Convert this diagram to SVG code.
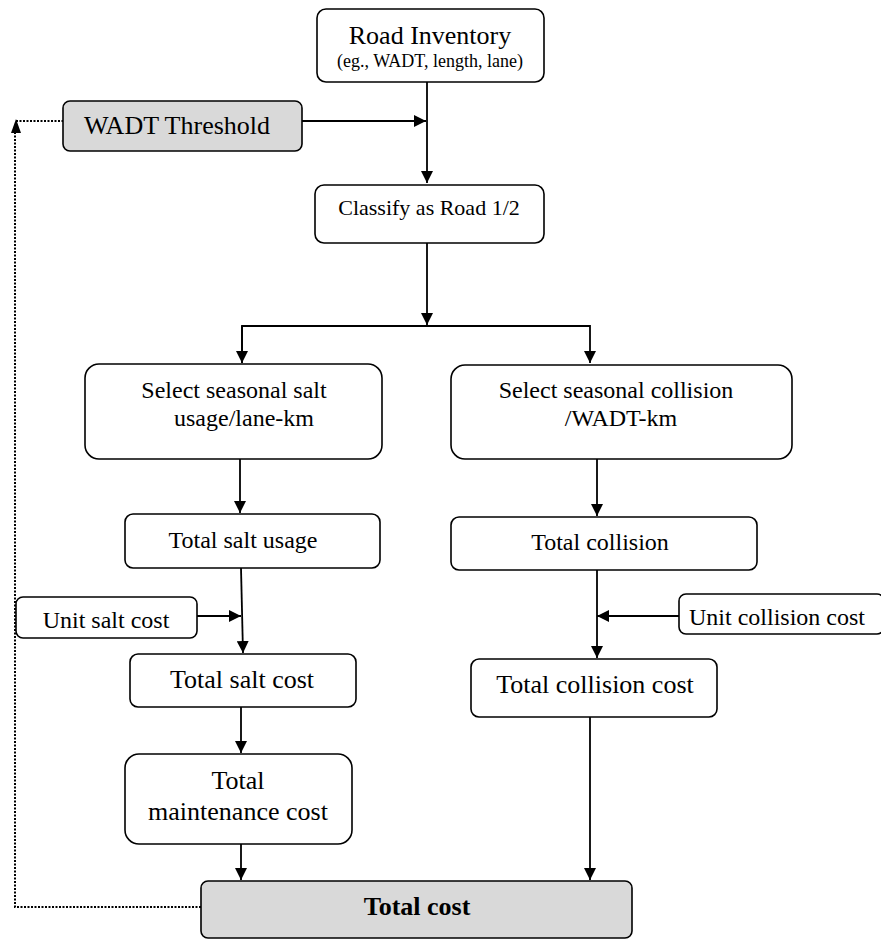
<svg xmlns="http://www.w3.org/2000/svg" width="881" height="940" viewBox="0 0 881 940">
<defs>
<marker id="arr" markerUnits="userSpaceOnUse" markerWidth="13" markerHeight="12" refX="12" refY="6" orient="auto">
<path d="M0,0 L12,6 L0,12 z" fill="#000"/>
</marker>
<style>
.box{fill:#fff;stroke:#000;stroke-width:1.6}
.gray{fill:#d9d9d9;stroke:#000;stroke-width:1.6}
.t{font-family:"Liberation Serif","Times New Roman",serif;fill:#000;text-anchor:middle}
.ln{fill:none;stroke:#000;stroke-width:1.8}
.dot{fill:none;stroke:#000;stroke-width:2;stroke-dasharray:2 1.5}
</style>
</defs>
<rect width="881" height="940" fill="#fff"/>
<g id="connectors">
<line class="ln" x1="427" y1="82" x2="427" y2="183" marker-end="url(#arr)"/>
<line class="ln" x1="302" y1="121" x2="426" y2="121" marker-end="url(#arr)"/>
<line class="ln" x1="427" y1="243" x2="427" y2="325" marker-end="url(#arr)"/>
<polyline class="ln" points="242,363 242,326 590,326 590,363" marker-start="url(#arr)" marker-end="url(#arr)" style="marker-start:none"/>
<line class="ln" x1="242" y1="326" x2="242" y2="363" marker-end="url(#arr)"/>
<line class="ln" x1="240" y1="459" x2="240" y2="513" marker-end="url(#arr)"/>
<line class="ln" x1="597" y1="459" x2="597" y2="516" marker-end="url(#arr)"/>
<line class="ln" x1="241" y1="568" x2="243" y2="653" marker-end="url(#arr)"/>
<line class="ln" x1="197" y1="616" x2="241" y2="616" marker-end="url(#arr)"/>
<line class="ln" x1="597" y1="570" x2="597" y2="658" marker-end="url(#arr)"/>
<line class="ln" x1="679" y1="616" x2="597" y2="616" marker-end="url(#arr)"/>
<line class="ln" x1="241" y1="707" x2="241" y2="753" marker-end="url(#arr)"/>
<line class="ln" x1="241" y1="844" x2="241" y2="880" marker-end="url(#arr)"/>
<line class="ln" x1="590" y1="717" x2="590" y2="880" marker-end="url(#arr)"/>
<polyline class="dot" points="201,907 15,907 15,133"/>
<polyline class="dot" points="16,121 63,121"/>
<polygon points="16,119 11,133 21,133" fill="#000"/>
</g>
<g id="road-inventory">
<rect class="box" x="317" y="9" width="227" height="73" rx="9"/>
<text class="t" x="430" y="44" font-size="26">Road Inventory</text>
<text class="t" x="430" y="67" font-size="18">(eg., WADT, length, lane)</text>
</g>
<g id="wadt-threshold">
<rect class="gray" x="63" y="101" width="239" height="50" rx="7"/>
<text class="t" x="177" y="134" font-size="26">WADT Threshold</text>
</g>
<g id="classify">
<rect class="box" x="315" y="185" width="229" height="58" rx="9"/>
<text class="t" x="429" y="215" font-size="22">Classify as Road 1/2</text>
</g>
<g id="select-salt">
<rect class="box" x="85" y="364" width="297" height="95" rx="14"/>
<text class="t" x="234" y="398" font-size="24">Select seasonal salt</text>
<text class="t" x="244" y="426" font-size="24">usage/lane-km</text>
</g>
<g id="select-collision">
<rect class="box" x="451" y="365" width="341" height="94" rx="14"/>
<text class="t" x="616" y="398" font-size="24">Select seasonal collision</text>
<text class="t" x="621" y="426" font-size="24">/WADT-km</text>
</g>
<g id="total-salt-usage">
<rect class="box" x="125" y="514" width="255" height="54" rx="8"/>
<text class="t" x="243" y="548" font-size="24">Total salt usage</text>
</g>
<g id="total-collision">
<rect class="box" x="451" y="517" width="306" height="53" rx="8"/>
<text class="t" x="600" y="550" font-size="24">Total collision</text>
</g>
<g id="unit-salt-cost">
<rect class="box" x="16" y="597" width="181" height="41" rx="7"/>
<text class="t" x="106" y="628" font-size="24">Unit salt cost</text>
</g>
<g id="unit-collision-cost">
<rect class="box" x="679" y="594" width="205" height="40" rx="7"/>
<text class="t" x="689" y="625" font-size="24" style="text-anchor:start">Unit collision cost</text>
</g>
<g id="total-salt-cost">
<rect class="box" x="130" y="654" width="226" height="53" rx="8"/>
<text class="t" x="242" y="688" font-size="26">Total salt cost</text>
</g>
<g id="total-collision-cost">
<rect class="box" x="471" y="659" width="246" height="58" rx="8"/>
<text class="t" x="595" y="693" font-size="26">Total collision cost</text>
</g>
<g id="total-maintenance-cost">
<rect class="box" x="125" y="754" width="227" height="90" rx="14"/>
<text class="t" x="238" y="789" font-size="26">Total</text>
<text class="t" x="238" y="820" font-size="26">maintenance cost</text>
</g>
<g id="total-cost">
<rect class="gray" x="201" y="881" width="431" height="57" rx="7"/>
<text class="t" x="417" y="915" font-size="26" font-weight="bold">Total cost</text>
</g>
</svg>
